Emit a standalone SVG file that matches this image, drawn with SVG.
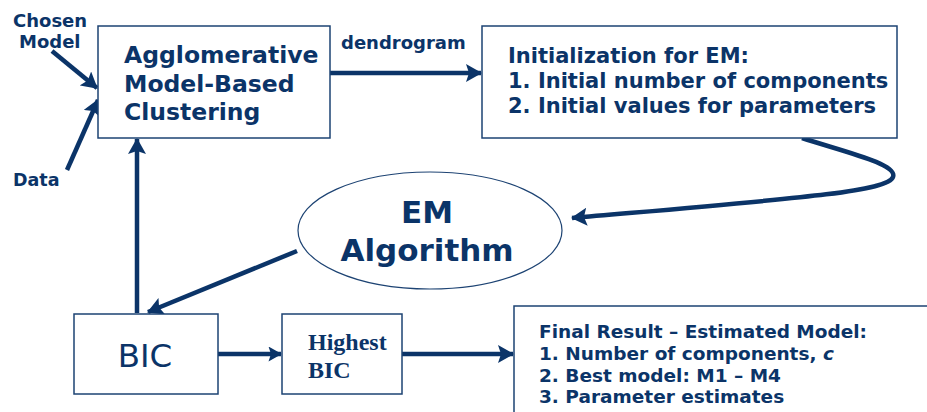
<svg xmlns="http://www.w3.org/2000/svg" width="927" height="412" viewBox="0 0 927 412">
<defs>
<style>
.box{fill:#fff;stroke:#1d4373;stroke-width:1.5}
.t{font-family:"DejaVu Sans",Verdana,sans-serif;font-weight:bold;fill:#0b3468}
.ts{font-family:"Liberation Serif","Times New Roman",serif;font-weight:bold;fill:#0b3468}
.w{stroke:#0b3468;stroke-width:4.5;fill:none}
</style>
<marker id="ah" viewBox="0 0 16 18" refX="15" refY="9" markerWidth="16" markerHeight="18" markerUnits="userSpaceOnUse" orient="auto">
<path d="M0,0 L16,9 L0,18 L3,9 Z" fill="#0b3468"/>
</marker>
<marker id="ah2" viewBox="0 0 16 18" refX="15" refY="9" markerWidth="14" markerHeight="15" markerUnits="userSpaceOnUse" orient="auto">
<path d="M0,0 L16,9 L0,18 L3,9 Z" fill="#0b3468"/>
</marker>
</defs>
<rect width="927" height="412" fill="#fff"/>

<g id="connectors">
<line class="w" x1="52" y1="51" x2="97" y2="88" stroke-width="4" marker-end="url(#ah)"/>
<line class="w" x1="67" y1="170" x2="98" y2="100" stroke-width="4" marker-end="url(#ah)"/>
<line class="w" x1="330" y1="73" x2="481" y2="73" marker-end="url(#ah)"/>
<path class="w" d="M802,138 C845,152 898,164 893,177 C888,192 790,199 572,218" stroke-width="4.5" marker-end="url(#ah)"/>
<line class="w" x1="297" y1="251" x2="148" y2="312" marker-end="url(#ah)"/>
<line class="w" x1="137" y1="313" x2="137" y2="139" marker-end="url(#ah)"/>
<line class="w" x1="218" y1="354" x2="281" y2="354" marker-end="url(#ah2)"/>
<line class="w" x1="402" y1="354" x2="513" y2="354" marker-end="url(#ah)"/>
</g>

<g id="input-labels">
<text class="t" x="13" y="27" font-size="18">Chosen</text>
<text class="t" x="19" y="48" font-size="18">Model</text>
<text class="t" x="13" y="186" font-size="17.5">Data</text>
<text class="t" x="341" y="49" font-size="18">dendrogram</text>
</g>

<g id="agglomerative">
<rect class="box" x="98" y="26" width="232" height="112"/>
<text class="t" x="124" y="63" font-size="23.5">Agglomerative</text>
<text class="t" x="124" y="92" font-size="23.5">Model-Based</text>
<text class="t" x="124" y="120" font-size="23.5">Clustering</text>
</g>

<g id="initialization">
<rect class="box" x="482" y="26" width="415" height="112"/>
<text class="t" x="508" y="63" font-size="21">Initialization for EM:</text>
<text class="t" x="508" y="88" font-size="21">1. Initial number of components</text>
<text class="t" x="508" y="113" font-size="21">2. Initial values for parameters</text>
</g>

<g id="em">
<ellipse cx="430" cy="230.5" rx="132" ry="58.5" fill="#fff" stroke="#1d4373" stroke-width="1.2"/>
<text class="t" x="427" y="223" font-size="31" text-anchor="middle">EM</text>
<text class="t" x="427" y="261" font-size="31" text-anchor="middle">Algorithm</text>
</g>

<g id="bic">
<rect class="box" x="74" y="314" width="144" height="80"/>
<text x="145" y="367" font-size="32.5" text-anchor="middle" font-family="DejaVu Sans,Verdana,sans-serif" fill="#0b3468">BIC</text>
</g>

<g id="highest-bic">
<rect class="box" x="282" y="314" width="120" height="80"/>
<text class="ts" x="308" y="350" font-size="24">Highest</text>
<text class="ts" x="308" y="378" font-size="24">BIC</text>
</g>

<g id="final-result">
<rect class="box" x="514" y="306" width="420" height="120"/>
<text class="t" x="539" y="338" font-size="18.5">Final Result – Estimated Model:</text>
<text class="t" x="539" y="360" font-size="18.5">1. Number of components, <tspan font-style="italic">c</tspan></text>
<text class="t" x="539" y="382" font-size="18.5">2. Best model: M1 – M4</text>
<text class="t" x="539" y="403" font-size="18.5">3. Parameter estimates</text>
</g>
</svg>
